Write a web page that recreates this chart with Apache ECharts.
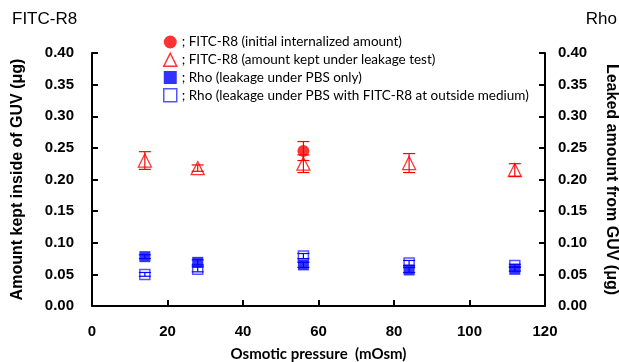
<!DOCTYPE html>
<html>
<head>
<meta charset="utf-8">
<script src="https://cdn.jsdelivr.net/npm/echarts@6/dist/echarts.min.js"></script>
<style>
  html, body { margin: 0; padding: 0; background: #fff; }
  #chart { width: 619px; height: 362px; }
</style>
</head>
<body>
<div id="chart"></div>
<script>
// 渗透压 (mOsm)
var pressure = [14, 28, 56, 84, 112];

// FITC-R8 初始内化量 (只有一个点)
var initX = [56];
var initVal = [0.245];
var initErr = [0.015];

// FITC-R8 泄漏试验后残留量
var keptVal = [0.230, 0.218, 0.225, 0.226, 0.215];
var keptErr = [0.014, 0.005, 0.014, 0.015, 0.010];

// Rho 泄漏量 (PBS only)
var rhoPbsVal = [0.078, 0.069, 0.065, 0.057, 0.058];
var rhoPbsErr = [0.003, 0.004, 0.004, 0.004, 0.003];

// Rho 泄漏量 (PBS + 外液 FITC-R8)
var rhoOutVal = [0.050, 0.058, 0.079, 0.068, 0.064];
var rhoOutErr = [0.003, 0.004, 0.004, 0.004, 0.002];

var xTicks = [0, 20, 40, 60, 80, 100, 120];

var names = [
  '; FITC-R8 (initial internalized amount)',
  '; FITC-R8 (amount kept under leakage test)',
  '; Rho (leakage under PBS only)',
  '; Rho (leakage under PBS with FITC-R8 at outside medium)'
];

function pts(xs, vals) {
  return xs.map(function (x, i) { return [x, vals[i]]; });
}
function errs(xs, vals, e) {
  return xs.map(function (x, i) { return [x, vals[i] - e[i], vals[i] + e[i]]; });
}

// 误差线
function errorBar(color, yIdx, data) {
  return {
    type: 'custom',
    yAxisIndex: yIdx,
    z: 5,
    silent: true,
    data: data,
    renderItem: function (params, api) {
      var lo = api.coord([api.value(0), api.value(1)]);
      var hi = api.coord([api.value(0), api.value(2)]);
      var w = 6;
      var st = { stroke: color, lineWidth: 1.2 };
      return {
        type: 'group',
        children: [
          { type: 'line', shape: { x1: lo[0], y1: lo[1], x2: hi[0], y2: hi[1] }, style: st },
          { type: 'line', shape: { x1: lo[0] - w, y1: lo[1], x2: lo[0] + w, y2: lo[1] }, style: st },
          { type: 'line', shape: { x1: hi[0] - w, y1: hi[1], x2: hi[0] + w, y2: hi[1] }, style: st }
        ]
      };
    }
  };
}

var axisFont = { color: '#000', fontSize: 15, fontWeight: 'bold', fontFamily: 'Liberation Sans' };
var axisLine = { lineStyle: { color: '#000', width: 2 } };

var myChart = echarts.init(document.getElementById('chart'));
var option = {
  animation: false,
  backgroundColor: '#fff',
  grid: { left: 92, right: 74, top: 53, bottom: 56, containLabel: false, outerBoundsMode: 'none' },
  graphic: [
    { type: 'text', left: 12, top: 11, style: { text: 'FITC-R8', fontSize: 17, fontFamily: 'Liberation Sans', fill: '#000' } },
    { type: 'text', right: 2, top: 11, style: { text: 'Rho', fontSize: 17, fontFamily: 'Liberation Sans', fill: '#000' } }
  ],
  legend: {
    data: names,
    orient: 'vertical',
    left: 158,
    top: 30,
    itemGap: 3.5,
    itemWidth: 13,
    itemHeight: 13,
    itemStyle: { borderWidth: 1.5 },
    textStyle: { color: '#000', fontSize: 13.5, fontFamily: 'Lato', lineHeight: 14 }
  },
  xAxis: {
    type: 'value',
    min: 0, max: 120, interval: 20,
    name: 'Osmotic pressure  (mOsm)',
    nameLocation: 'middle',
    nameGap: 41,
    nameTextStyle: { color: '#000', fontSize: 15, fontWeight: 'bold', fontFamily: 'Lato' },
    axisLine: axisLine,
    axisTick: { inside: true, length: 6, lineStyle: { color: '#000', width: 2 } },
    axisLabel: Object.assign({ margin: 18, customValues: xTicks }, axisFont),
    splitLine: { show: false }
  },
  yAxis: [
    {
      type: 'value',
      min: 0, max: 0.4, interval: 0.05,
      name: 'Amount kept inside of GUV (μg)',
      nameLocation: 'middle',
      nameRotate: 90,
      nameGap: 66,
      nameTextStyle: { color: '#000', fontSize: 16, fontWeight: 'bold', fontFamily: 'Liberation Sans' },
      axisLine: Object.assign({ show: true }, axisLine),
      axisTick: { show: true, inside: true, length: 6, lineStyle: { color: '#000', width: 2 } },
      axisLabel: Object.assign({ margin: 18, formatter: function (v) { return v.toFixed(2); } }, axisFont),
      splitLine: { show: false }
    },
    {
      type: 'value',
      position: 'right',
      min: 0, max: 0.4, interval: 0.05,
      name: 'Leaked amount from GUV (μg)',
      nameLocation: 'middle',
      nameRotate: -90,
      nameGap: 58,
      nameTextStyle: { color: '#000', fontSize: 16, fontWeight: 'bold', fontFamily: 'Liberation Sans' },
      axisLine: Object.assign({ show: true }, axisLine),
      axisTick: { show: true, inside: true, length: 6, lineStyle: { color: '#000', width: 2 } },
      axisLabel: Object.assign({ margin: 13, formatter: function (v) { return v.toFixed(2); } }, axisFont),
      splitLine: { show: false }
    }
  ],
  series: [
    {
      name: names[0],
      type: 'scatter',
      symbol: 'circle',
      symbolSize: 12,
      z: 4,
      itemStyle: { color: '#ff0000' },
      data: pts(initX, initVal)
    },
    {
      name: names[1],
      type: 'scatter',
      symbol: 'triangle',
      symbolSize: 13,
      z: 3,
      itemStyle: { color: 'rgba(255,255,255,0)', borderColor: '#ff0000', borderWidth: 1.3 },
      data: pts(pressure, keptVal)
    },
    {
      name: names[2],
      type: 'scatter',
      yAxisIndex: 1,
      symbol: 'rect',
      symbolSize: 11,
      z: 3,
      itemStyle: { color: '#0000ff' },
      data: pts(pressure, rhoPbsVal)
    },
    {
      name: names[3],
      type: 'scatter',
      yAxisIndex: 1,
      symbol: 'rect',
      symbolSize: 10,
      z: 4,
      itemStyle: { color: 'rgba(255,255,255,0)', borderColor: '#2b2bff', borderWidth: 1.5 },
      data: pts(pressure, rhoOutVal)
    },
    errorBar('#ff0000', 0, errs(initX, initVal, initErr)),
    errorBar('#ff0000', 0, errs(pressure, keptVal, keptErr)),
    errorBar('#0000ff', 1, errs(pressure, rhoPbsVal, rhoPbsErr)),
    errorBar('#0000ff', 1, errs(pressure, rhoOutVal, rhoOutErr))
  ]
};
myChart.setOption(option);
</script>
</body>
</html>
